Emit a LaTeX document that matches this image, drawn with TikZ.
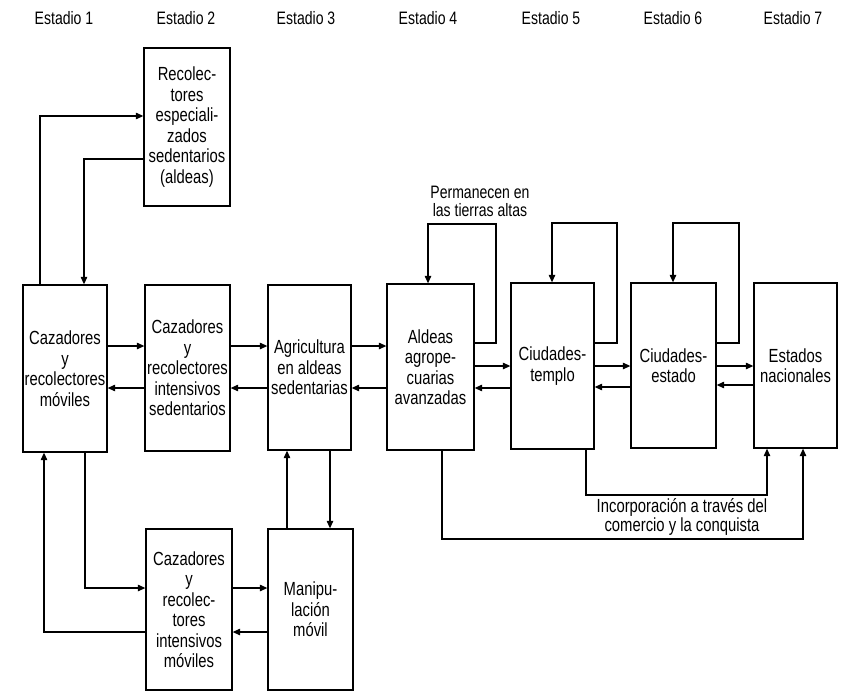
\documentclass[tikz,border=0pt]{standalone}
\usepackage{fontspec}
\setmainfont{Liberation Sans}[FakeStretch=0.78]
\usetikzlibrary{arrows.meta}
\begin{document}
\begin{tikzpicture}[x=1pt,y=-1pt,
  box/.style={draw,line width=1.3pt,inner sep=0pt,align=center,
    font=\fontsize{19}{20.5}\selectfont},
  arr/.style={line width=1.1pt,-{Triangle[length=7.5pt,width=6.5pt]}},
  hdr/.style={font=\fontsize{18}{19}\selectfont},
  lbl/.style={align=center,inner sep=0pt}]
\useasboundingbox (0,0) rectangle (842,693);
% headers
\node[hdr] (h1) at (64,18) {Estadio 1};
\node[hdr] (h2) at (186,18) {Estadio 2};
\node[hdr] (h3) at (306,18) {Estadio 3};
\node[hdr] (h4) at (428,18) {Estadio 4};
\node[hdr] (h5) at (551,18) {Estadio 5};
\node[hdr] (h6) at (673,18) {Estadio 6};
\node[hdr] (h7) at (793,18) {Estadio 7};
% boxes
\node[box,minimum width=86,minimum height=158] (r) at (187,127)
  {Recolec-\\tores\\especiali-\\zados\\sedentarios\\(aldeas)};
\node[box,minimum width=84,minimum height=167] (c1) at (65,368.5)
  {Cazadores\\y\\recolectores\\móviles};
\node[box,minimum width=85,minimum height=166] (c2) at (187.5,368)
  {Cazadores\\y\\recolectores\\intensivos\\sedentarios};
\node[box,minimum width=83,minimum height=165] (c3) at (309.5,367.5)
  {Agricultura\\en aldeas\\sedentarias};
\node[box,minimum width=87,minimum height=166] (c4) at (430.5,367)
  {Aldeas\\agrope-\\cuarias\\avanzadas};
\node[box,minimum width=83,minimum height=166] (c5) at (552.5,366)
  {Ciudades-\\templo};
\node[box,minimum width=85,minimum height=165] (c6) at (673.5,365.5)
  {Ciudades-\\estado};
\node[box,minimum width=83,minimum height=165] (c7) at (795.5,365.5)
  {Estados\\nacionales};
\node[box,minimum width=86,minimum height=161] (b1) at (189,609.5)
  {Cazadores\\y\\recolec-\\tores\\intensivos\\móviles};
\node[box,minimum width=85,minimum height=161] (b2) at (310.5,609.5)
  {Manipu-\\lación\\móvil};
% labels
\node[lbl,font=\fontsize{18}{18}\selectfont] (lp) at (480,201)
  {Permanecen en\\las tierras altas};
\node[lbl,font=\fontsize{19}{19}\selectfont] (li) at (682,517)
  {Incorporación a través del\\comercio y la conquista};
% connectors to/from R
\draw[arr] (40,0 |- c1.north) |- (r.west |- 0,116);
\draw[arr] (r.west |- 0,159) -| (84,0 |- c1.north);
% middle row
\draw[arr] (c1.east |- 0,346) -- (c2.west |- 0,346);
\draw[arr] (c2.west |- 0,388) -- (c1.east |- 0,388);
\draw[arr] (c2.east |- 0,346) -- (c3.west |- 0,346);
\draw[arr] (c3.west |- 0,388) -- (c2.east |- 0,388);
\draw[arr] (c3.east |- 0,346) -- (c4.west |- 0,346);
\draw[arr] (c4.west |- 0,388) -- (c3.east |- 0,388);
\draw[arr] (c4.east |- 0,366) -- (c5.west |- 0,366);
\draw[arr] (c5.west |- 0,388) -- (c4.east |- 0,388);
\draw[arr] (c5.east |- 0,366) -- (c6.west |- 0,366);
\draw[arr] (c6.west |- 0,387) -- (c5.east |- 0,387);
\draw[arr] (c6.east |- 0,366) -- (c7.west |- 0,366);
\draw[arr] (c7.west |- 0,385) -- (c6.east |- 0,385);
% top feedback loops
\draw[arr] (c4.east |- 0,343) -| (496,224) -| (428,0 |- c4.north);
\draw[arr] (c5.east |- 0,343) -| (617,223) -| (552,0 |- c5.north);
\draw[arr] (c6.east |- 0,343) -| (739,223) -| (673,0 |- c6.north);
% bottom incorporation lines
\draw[arr] (442,0 |- c4.south) |- (803,539) -- (803,0 |- c7.south);
\draw[arr] (586,0 |- c5.south) |- (767,495) -- (767,0 |- c7.south);
% bottom left
\draw[arr] (85,0 |- c1.south) |- (b1.west |- 0,588);
\draw[arr] (b1.west |- 0,632) -| (44,0 |- c1.south);
\draw[arr] (b1.east |- 0,588) -- (b2.west |- 0,588);
\draw[arr] (b2.west |- 0,632) -- (b1.east |- 0,632);
\draw[arr] (287,0 |- b2.north) -- (287,0 |- c3.south);
\draw[arr] (330,0 |- c3.south) -- (330,0 |- b2.north);
\end{tikzpicture}
\end{document}
